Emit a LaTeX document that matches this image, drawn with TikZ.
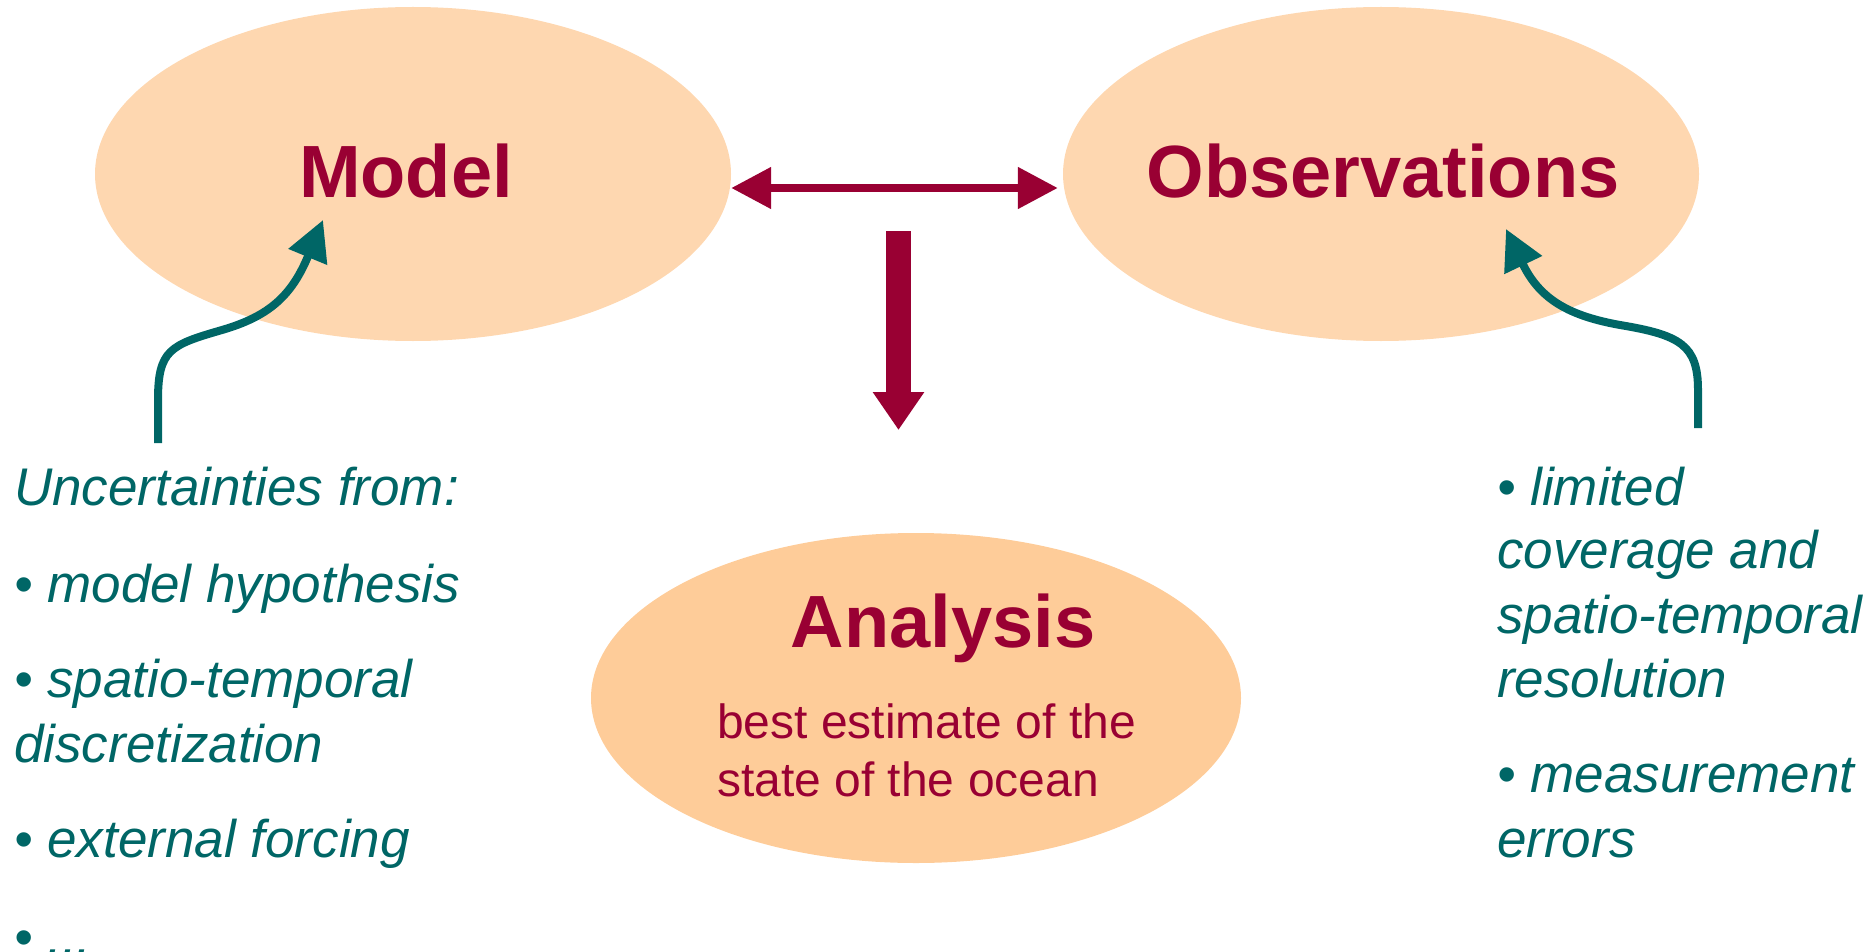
\documentclass[tikz,border=0pt]{standalone}
\usepackage{fontspec}
\setmainfont{Liberation Sans}
\usetikzlibrary{shapes.geometric,arrows.meta}
\definecolor{maroon}{HTML}{990033}
\definecolor{teal}{HTML}{006666}
\definecolor{peachA}{HTML}{FED7B0}
\definecolor{peachB}{HTML}{FECC99}
\tikzset{
  blob/.style={ellipse, draw=none, inner sep=0pt},
  titletext/.style={inner sep=0pt, anchor=base, text=maroon, font=\fontsize{74}{80}\selectfont\bfseries},
  subtext/.style={inner sep=0pt, anchor=base west, text=maroon, font=\fontsize{48}{58}\selectfont},
  notetext/.style={inner sep=0pt, anchor=base west, text=teal, font=\fontsize{53}{65}\selectfont\itshape},
  dblarrow/.style={draw=maroon, line width=8pt, {Triangle[length=40pt,width=40pt]}-{Triangle[length=40pt,width=40pt]}},
  downarrow/.style={draw=maroon, line width=25pt, -{Triangle[length=38pt,width=49pt]}},
  curvearrow/.style={draw=teal, line width=8pt, -{Triangle[length=40pt,width=40pt]}}
}
\begin{document}
\begin{tikzpicture}[x=1pt,y=-1pt]
\useasboundingbox (0,0) rectangle (1870,952);
% ellipses
\node[blob, fill=peachA, minimum width=636pt, minimum height=334pt] (model) at (413,174) {};
\node[blob, fill=peachA, minimum width=636pt, minimum height=334pt] (obs) at (1381,174) {};
\node[blob, fill=peachB, minimum width=650pt, minimum height=330pt] (analysis) at (916,698) {};
% titles
\node[titletext] (modeltxt) at (406,197) {Model};
\node[titletext] (obstxt) at (1383,197) {Observations};
\node[titletext] (anatxt) at (943,647) {Analysis};
\node[subtext] (ana1) at (717,738) {best estimate of the};
\node[subtext] (ana2) at (717,796) {state of the ocean};
% maroon arrows
\coordinate (dline) at (0,188);
\draw[dblarrow] (model.east |- dline) -- ([xshift=-5pt]obs.west |- dline);
\coordinate (dtop) at (898.5,231);
\coordinate (dtip) at (898.5,430);
\draw[downarrow] (dtop) -- (dtip);
% left notes
\node[notetext] (lt) at (14,505) {Uncertainties from:};
\node[notetext] (l1) at (14,602) {• model hypothesis};
\node[notetext] (l2a) at (14,697) {• spatio-temporal};
\node[notetext] (l2b) at (14,762) {discretization};
\node[notetext] (l3) at (14,857) {• external forcing};
\node[notetext] (l4) at (14,955) {• ...};
% right notes
\node[notetext] (r1) at (1497,505) {• limited};
\node[notetext] (r2) at (1497,568) {coverage and};
\node[notetext] (r3) at (1497,633) {spatio-temporal};
\node[notetext] (r4) at (1497,697) {resolution};
\node[notetext] (r5) at (1497,792) {• measurement};
\node[notetext] (r6) at (1497,857) {errors};
% teal curved arrows
\coordinate (lstart) at (158,443);
\coordinate (ltip) at (323,220);
\draw[curvearrow] (lstart) -- (158,400) .. controls (158,350) and (170,345) .. (222,330) .. controls (270,316) and (292,295) .. (ltip);
\coordinate (rstart) at (1698,428);
\coordinate (rtip) at (1506,229);
\draw[curvearrow] (rstart) -- (1698,390) .. controls (1698,345) and (1680,335) .. (1620,325) .. controls (1570,316) and (1540,300) .. (rtip);
\end{tikzpicture}
\end{document}
